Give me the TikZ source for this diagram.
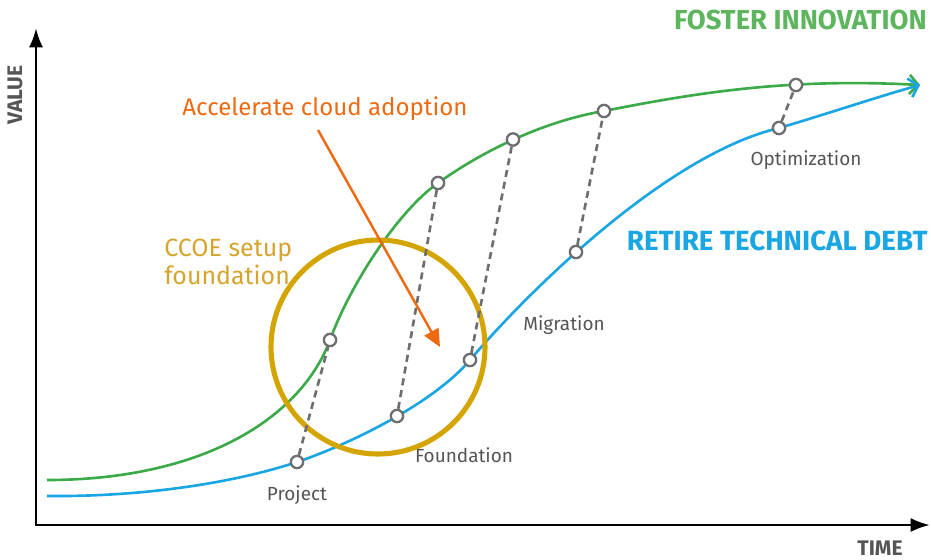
\documentclass[tikz,border=0pt]{standalone}
\usepackage{fontspec}
\setmainfont{Fira Sans}
\usetikzlibrary{arrows.meta}
\definecolor{grn}{HTML}{3DAA4A}
\definecolor{grntext}{HTML}{5DB55D}
\definecolor{blu}{HTML}{1AA6E2}
\definecolor{orng}{HTML}{EE6A12}
\definecolor{gold}{HTML}{D4A400}
\definecolor{goldtext}{HTML}{D4A42C}
\definecolor{stage}{HTML}{6D6E71}
\definecolor{ink}{HTML}{555555}

\begin{document}
\begin{tikzpicture}[x=0.02cm, y=-0.02cm,
    ring/.style={circle, draw=stage, fill=white, line width=1.3pt, inner sep=0pt, minimum size=7pt},
    link/.style={draw=stage, line width=1.5pt, dash pattern=on 4pt off 2.8pt},
    phase/.style={text=ink, font=\fontsize{10.8}{12}\selectfont},
    axislabel/.style={text=ink, font=\bfseries\fontsize{12}{14}\selectfont},
    curve/.style={line width=1.5pt, -{Straight Barb[length=5pt,width=11pt]}}]
        \useasboundingbox (0,0) rectangle (931,559);
        % axes
        \coordinate (ytop) at (36,28);
        \coordinate (o) at (36,525);
        \coordinate (xend) at (930,525);
        \draw[line width=1.6pt, {Latex[length=11pt,width=8pt]}-{Latex[length=11pt,width=8pt]}] (ytop) -- (o) -- (xend);
        \node[axislabel, rotate=90] (value) at (15,95) {VALUE};
        \node[axislabel] (time) at (880,548) {TIME};
        % the two curves
        \draw[grn, curve] (47,480) .. controls (200,480) and (300,420) .. (330,340)
            .. controls (350,285) and (398,211) .. (438,183)
            .. controls (480,153) and (540,122) .. (604,111)
            .. controls (700,92) and (790,78) .. (920,85);
        \draw[blu, curve] (47,496) .. controls (150,497) and (240,481) .. (297,462)
            .. controls (345,446) and (432,405) .. (470,360)
            .. controls (525,295) and (665,155) .. (779,128)
            .. controls (830,113) and (880,96) .. (920,85);
        % CCOE circle
        \draw[gold, line width=2.9pt] (378,347) circle [radius=107];
        % stages
        \node[ring] (b1) at (297,462) {};
        \node[ring] (b2) at (397,416) {};
        \node[ring] (b3) at (470,360) {};
        \node[ring] (b4) at (576,252) {};
        \node[ring] (b5) at (779,128) {};
        \node[ring] (g1) at (330,340) {};
        \node[ring] (g2) at (438,183) {};
        \node[ring] (g3) at (513,139.5) {};
        \node[ring] (g4) at (604,111) {};
        \node[ring] (g5) at (796,85) {};
        \draw[link] (b1) -- (g1);
        \draw[link] (b2) -- (g2);
        \draw[link] (b3) -- (g3);
        \draw[link] (b4) -- (g4);
        \draw[link] (b5) -- (g5);
        \node[phase] (project) at (297,495) {Project};
        \node[phase] (foundation) at (464,455) {Foundation};
        \node[phase] (migration) at (564,325) {Migration};
        \node[phase] (optimization) at (806,160) {Optimization};
        % accelerate arrow
        \node[text=orng, font=\fontsize{13.7}{16}\selectfont] (accel) at (325,109) {Accelerate cloud adoption};
        \coordinate (acctail) at (318,130);
        \coordinate (acchead) at (440,347);
        \draw[orng, line width=1.4pt, -{Triangle[length=10pt,width=9pt]}] (acctail) -- (acchead);
        % headings
        \node[text=goldtext, font=\fontsize{14.2}{15.5}\selectfont, align=left, anchor=west, inner sep=0pt] (ccoe) at (164,262) {CCOE setup\\foundation};
        \node[text=grntext, font=\bfseries\fontsize{15.6}{18}\selectfont, anchor=east, inner sep=0pt] (foster) at (927,20) {FOSTER INNOVATION};
        \node[text=blu, font=\bfseries\fontsize{15.8}{18}\selectfont, anchor=east, inner sep=0pt] (retire) at (928,241) {RETIRE TECHNICAL DEBT};
\end{tikzpicture}
\end{document}
